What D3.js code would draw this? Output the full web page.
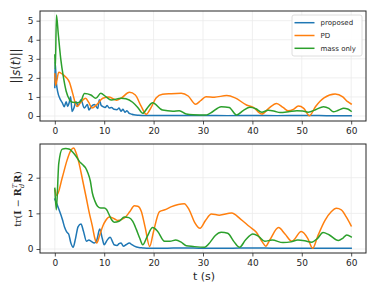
<!DOCTYPE html>
<html><head><meta charset="utf-8">
<script src="https://cdn.jsdelivr.net/npm/d3@7"></script>
<style>html,body{margin:0;padding:0;background:#fff;}svg{display:block;}</style>
</head><body>
<svg id="c" width="374" height="286"></svg>
<script>
// ---------- data ----------
const seriesNames = ["proposed", "PD", "mass only"];
const seriesColors = ["#1f77b4", "#ff7f0e", "#2ca02c"];
const xTicks = [0, 10, 20, 30, 40, 50, 60];
const topYTicks = [0, 1, 2, 3, 4, 5];
const botYTicks = [0, 1, 2];

// top panel: ||s(t)||
const topProposedT = [0, 0.06, 0.3, 0.6, 1.0, 1.5, 1.9, 2.3, 2.6, 2.9, 3.2, 3.5, 3.9, 4.26, 4.7, 5.3, 5.95, 6.6, 6.9, 7.4, 8.0, 8.7, 9.0, 9.4, 9.7, 10.2, 10.6, 11.0, 11.5, 12.0, 12.6, 13.0, 13.4, 13.8, 14.2, 14.6, 15.0, 15.5, 16.0, 17.0, 18.0, 20, 25, 30, 35, 40, 45, 50, 52, 55, 60];
const topProposedV = [1.5, 2.85, 1.8, 1.25, 0.93, 0.7, 0.49, 0.75, 0.5, 0.7, 1.01, 0.23, 0.45, 0.75, 0.55, 0.85, 0.42, 0.6, 0.32, 0.5, 0.6, 0.4, 0.85, 0.55, 0.5, 0.45, 0.55, 0.42, 0.45, 0.35, 0.33, 0.42, 0.25, 0.35, 0.2, 0.28, 0.15, 0.1, 0.06, 0.04, 0.03, 0.03, 0.03, 0.03, 0.02, 0.03, 0.02, 0.03, 0.03, 0.02, 0.02];

const topPDT = [0, 0.15, 0.8, 1.5, 2.2, 3.0, 3.6, 4.5, 5.2, 6.2, 6.9, 7.5, 8.5, 9.7, 11.0, 12.5, 13.5, 15.1, 16.3, 17.5, 18.5, 19.5, 20.5, 21.8, 23.5, 25.6, 27.0, 28.5, 29.5, 30.6, 32.3, 34.8, 36.5, 38.8, 40.2, 41.9, 43.3, 44.9, 46.2, 47.3, 48.3, 49.3, 50.4, 51.55, 52.8, 54.5, 56.75, 58.3, 59.3, 60];
const topPDV = [2.2, 1.6, 2.3, 2.2, 2.05, 1.75, 1.2, 0.5, 0.7, 0.93, 0.7, 0.42, 0.6, 0.93, 1.0, 0.83, 0.95, 1.24, 1.1, 0.5, 0.09, 0.45, 0.95, 1.14, 1.17, 1.19, 1.05, 0.62, 0.8, 1.01, 0.99, 1.07, 0.95, 0.58, 0.45, 0.1, 0.4, 0.66, 0.45, 0.27, 0.35, 0.52, 0.4, 0.02, 0.5, 0.95, 1.15, 1.0, 0.75, 0.63];

const topMassT = [0, 0.1, 0.33, 0.7, 1.2, 1.7, 2.3, 3.0, 3.6, 4.5, 5.2, 6.0, 7.3, 8.3, 9.3, 10.3, 11.4, 13.4, 14.4, 15.75, 16.8, 17.8, 18.8, 19.8, 21.8, 23.9, 25.2, 26.6, 28, 30.5, 31.5, 33.7, 35.3, 36.8, 38.2, 39.5, 40.7, 41.9, 43.2, 44.5, 45.6, 47.3, 49, 50.2, 51.3, 52.8, 54.4, 55.5, 56.4, 57.4, 58.5, 59.3, 60];
const topMassV = [3.2, 2.45, 5.3, 4.3, 3.0, 2.1, 1.3, 0.85, 0.72, 0.7, 0.75, 1.18, 1.1, 0.93, 1.19, 1.02, 0.84, 0.93, 0.9, 0.72, 0.45, 0.14, 0.45, 0.7, 0.31, 0.25, 0.28, 0.1, 0.06, 0.05, 0.15, 0.49, 0.45, 0.05, 0.3, 0.46, 0.38, 0.2, 0.3, 0.25, 0.18, 0.22, 0.28, 0.26, 0.2, 0.33, 0.49, 0.4, 0.22, 0.3, 0.41, 0.37, 0.25];

// bottom panel: tr(I - Rd^T R)
const botProposedT = [0, 0.3, 0.8, 1.55, 2.0, 2.4, 2.8, 3.25, 3.7, 4.2, 4.7, 5.3, 5.8, 6.4, 6.9, 7.3, 8.0, 8.5, 9.1, 9.6, 10.0, 10.6, 11.2, 11.7, 12.0, 12.6, 13.0, 13.4, 13.9, 14.4, 15.1, 15.6, 16.1, 17.0, 17.8, 19, 22, 26, 30, 35, 40, 45, 50, 55, 60];
const botProposedV = [1.4, 1.3, 1.12, 0.82, 0.6, 0.48, 0.42, 0.17, 0.05, 0.3, 0.62, 0.7, 0.5, 0.22, 0.25, 0.22, 0.17, 0.25, 0.56, 0.3, 0.12, 0.25, 0.33, 0.2, 0.12, 0.1, 0.15, 0.17, 0.08, 0.12, 0.17, 0.12, 0.08, 0.04, 0.03, 0.02, 0.02, 0.03, 0.02, 0.02, 0.03, 0.02, 0.02, 0.02, 0.02];

const botPDT = [0.05, 0.4, 1.5, 2.5, 3.2, 3.8, 4.3, 4.9, 5.6, 6.3, 7.0, 7.6, 8.1, 8.5, 9.0, 9.7, 10.3, 11.0, 12.0, 12.7, 14.1, 15.2, 16.1, 16.8, 17.5, 18.3, 19.2, 20.0, 21.2, 22.5, 23.5, 25.0, 26.2, 27.2, 28.3, 29.4, 30.5, 31.7, 33.3, 35.8, 37.6, 39.4, 40.8, 42.0, 42.7, 43.5, 45.3, 46.6, 48.0, 49.9, 51.2, 52.2, 53.2, 54.7, 56.0, 57.0, 58.0, 59.0, 60];
const botPDV = [1.65, 1.5, 2.0, 2.5, 2.75, 2.83, 2.7, 2.41, 1.95, 1.48, 1.0, 0.64, 0.3, 0.17, 0.35, 0.64, 0.8, 0.9, 0.85, 0.8, 0.87, 1.05, 1.21, 1.2, 1.06, 0.6, 0.07, 0.5, 1.05, 1.11, 1.18, 1.25, 1.27, 1.1, 0.75, 0.58, 0.8, 0.98, 0.95, 1.01, 0.84, 0.63, 0.47, 0.2, 0.08, 0.25, 0.6, 0.42, 0.22, 0.49, 0.3, 0.02, 0.35, 0.8, 1.05, 1.14, 1.1, 0.9, 0.65];

const botMassT = [0, 0.3, 0.8, 1.5, 2.2, 3.0, 3.6, 4.3, 5.0, 5.6, 6.2, 6.7, 7.2, 7.6, 8.1, 8.65, 9.3, 10.0, 10.5, 11.0, 11.5, 12.0, 13.0, 14.1, 15.0, 15.75, 16.5, 17.2, 17.8, 18.7, 19.8, 20.8, 22.2, 23.3, 24.5, 25.5, 26.6, 28, 30.3, 31.5, 32.5, 33.7, 35.0, 36.3, 37.4, 38.6, 40.1, 41.3, 42.5, 44.0, 46.2, 47.8, 49.2, 50.6, 52.0, 53.2, 54.3, 55.5, 57.4, 58.3, 59.1, 60];
const botMassV = [1.7, 1.1, 2.4, 2.8, 2.82, 2.8, 2.72, 2.6, 2.45, 2.37, 2.28, 2.13, 1.9, 1.57, 1.35, 1.2, 1.15, 1.15, 1.1, 0.96, 0.82, 0.75, 0.78, 0.9, 0.88, 0.78, 0.55, 0.3, 0.12, 0.35, 0.6, 0.5, 0.22, 0.22, 0.25, 0.2, 0.09, 0.07, 0.05, 0.2, 0.38, 0.47, 0.44, 0.2, 0.05, 0.25, 0.42, 0.35, 0.22, 0.25, 0.18, 0.2, 0.25, 0.23, 0.19, 0.3, 0.46, 0.4, 0.24, 0.3, 0.39, 0.34];

// ---------- drawing ----------
const svg = d3.select("#c");
const zip = (ts, vs) => ts.map((t, i) => [t, vs[i]]);

const x = d3.scaleLinear().domain([-3, 63]).range([40, 366]);

function panel(yDomain, yRange, yTicks, data, legend) {
  const y = d3.scaleLinear().domain(yDomain).range(yRange);
  const g = svg.append("g");
  const [yb, yt] = yRange;
  // grid
  g.append("g").selectAll("line").data(xTicks).join("line")
    .attr("x1", d => x(d)).attr("x2", d => x(d)).attr("y1", yt).attr("y2", yb)
    .attr("stroke", "#ebebeb").attr("stroke-width", 0.8);
  g.append("g").selectAll("line").data(yTicks).join("line")
    .attr("x1", 40).attr("x2", 366).attr("y1", d => y(d)).attr("y2", d => y(d))
    .attr("stroke", "#ebebeb").attr("stroke-width", 0.8);
  // lines
  const line = d3.line().x(d => x(d[0])).y(d => y(d[1])).curve(d3.curveMonotoneX);
  data.forEach((s, i) => {
    g.append("path").datum(s).attr("d", line).attr("fill", "none")
      .attr("stroke", seriesColors[i]).attr("stroke-width", 1.5)
      .attr("stroke-linejoin", "round").attr("stroke-linecap", "square");
  });
  // axes
  const xa = g.append("g").attr("transform", `translate(0,${yb})`)
    .call(d3.axisBottom(x).tickValues(xTicks).tickSize(3.5).tickPadding(3).tickFormat(d3.format("d")));
  const ya = g.append("g").attr("transform", `translate(40,0)`)
    .call(d3.axisLeft(y).tickValues(yTicks).tickSize(3.5).tickPadding(3).tickFormat(d3.format("d")));
  [xa, ya].forEach(a => {
    a.select(".domain").remove();
    a.selectAll("line").attr("stroke", "#262626").attr("stroke-width", 0.8);
    a.selectAll("text").attr("font-family", "DejaVu Sans").attr("font-size", 9).attr("fill", "#262626");
  });
  g.append("rect").attr("x", 40).attr("y", yt).attr("width", 326).attr("height", yb - yt)
    .attr("fill", "none").attr("stroke", "#262626").attr("stroke-width", 1);
  if (legend) {
    const lg = g.append("g");
    lg.append("rect").attr("x", 292).attr("y", 15).attr("width", 70).attr("height", 41)
      .attr("rx", 2).attr("fill", "#fff").attr("fill-opacity", 0.85).attr("stroke", "#d6d6d6").attr("stroke-width", 0.8);
    seriesNames.forEach((n, i) => {
      const yy = 22.7 + i * 12.8;
      lg.append("line").attr("x1", 294.5).attr("x2", 314.5).attr("y1", yy).attr("y2", yy)
        .attr("stroke", seriesColors[i]).attr("stroke-width", 1.5);
      lg.append("text").attr("x", 320.5).attr("y", yy).attr("dy", "0.35em")
        .attr("font-family", "DejaVu Sans").attr("font-size", 7).attr("fill", "#262626").text(n);
    });
  }
  return y;
}

panel([-0.262, 5.509], [121, 11], topYTicks,
  [zip(topProposedT, topProposedV), zip(topPDT, topPDV), zip(topMassT, topMassV)], true);
panel([-0.112, 2.945], [253, 144], botYTicks,
  [zip(botProposedT, botProposedV), zip(botPDT, botPDV), zip(botMassT, botMassV)], false);

// y labels
const l1 = svg.append("text").attr("transform", "translate(20,66) rotate(-90)")
  .attr("text-anchor", "middle").attr("font-family", "DejaVu Sans").attr("font-size", 11.5).attr("fill", "#262626");
l1.append("tspan").text("||");
l1.append("tspan").attr("font-style", "italic").text("s");
l1.append("tspan").text("(");
l1.append("tspan").attr("font-style", "italic").text("t");
l1.append("tspan").text(")||");

const l2 = svg.append("text").attr("transform", "translate(21,199) rotate(-90)")
  .attr("text-anchor", "middle").attr("font-family", "DejaVu Serif").attr("font-size", 9.5).attr("fill", "#262626");
l2.append("tspan").text("tr(");
l2.append("tspan").attr("font-weight", "bold").text("I");
l2.append("tspan").text(" − ");
l2.append("tspan").attr("font-weight", "bold").text("R");
l2.append("tspan").attr("font-size", 6.5).attr("font-style", "italic").attr("dy", -4).text("T");
l2.append("tspan").attr("font-size", 6.5).attr("font-style", "italic").attr("dx", -4).attr("dy", 7).text("d");
l2.append("tspan").attr("dy", -3).attr("dx", 1).attr("font-weight", "bold").text("R");
l2.append("tspan").text(")");

svg.append("text").attr("x", 204).attr("y", 280).attr("text-anchor", "middle")
  .attr("font-family", "DejaVu Sans").attr("font-size", 11).attr("fill", "#262626").text("t (s)");
</script>
</body></html>
